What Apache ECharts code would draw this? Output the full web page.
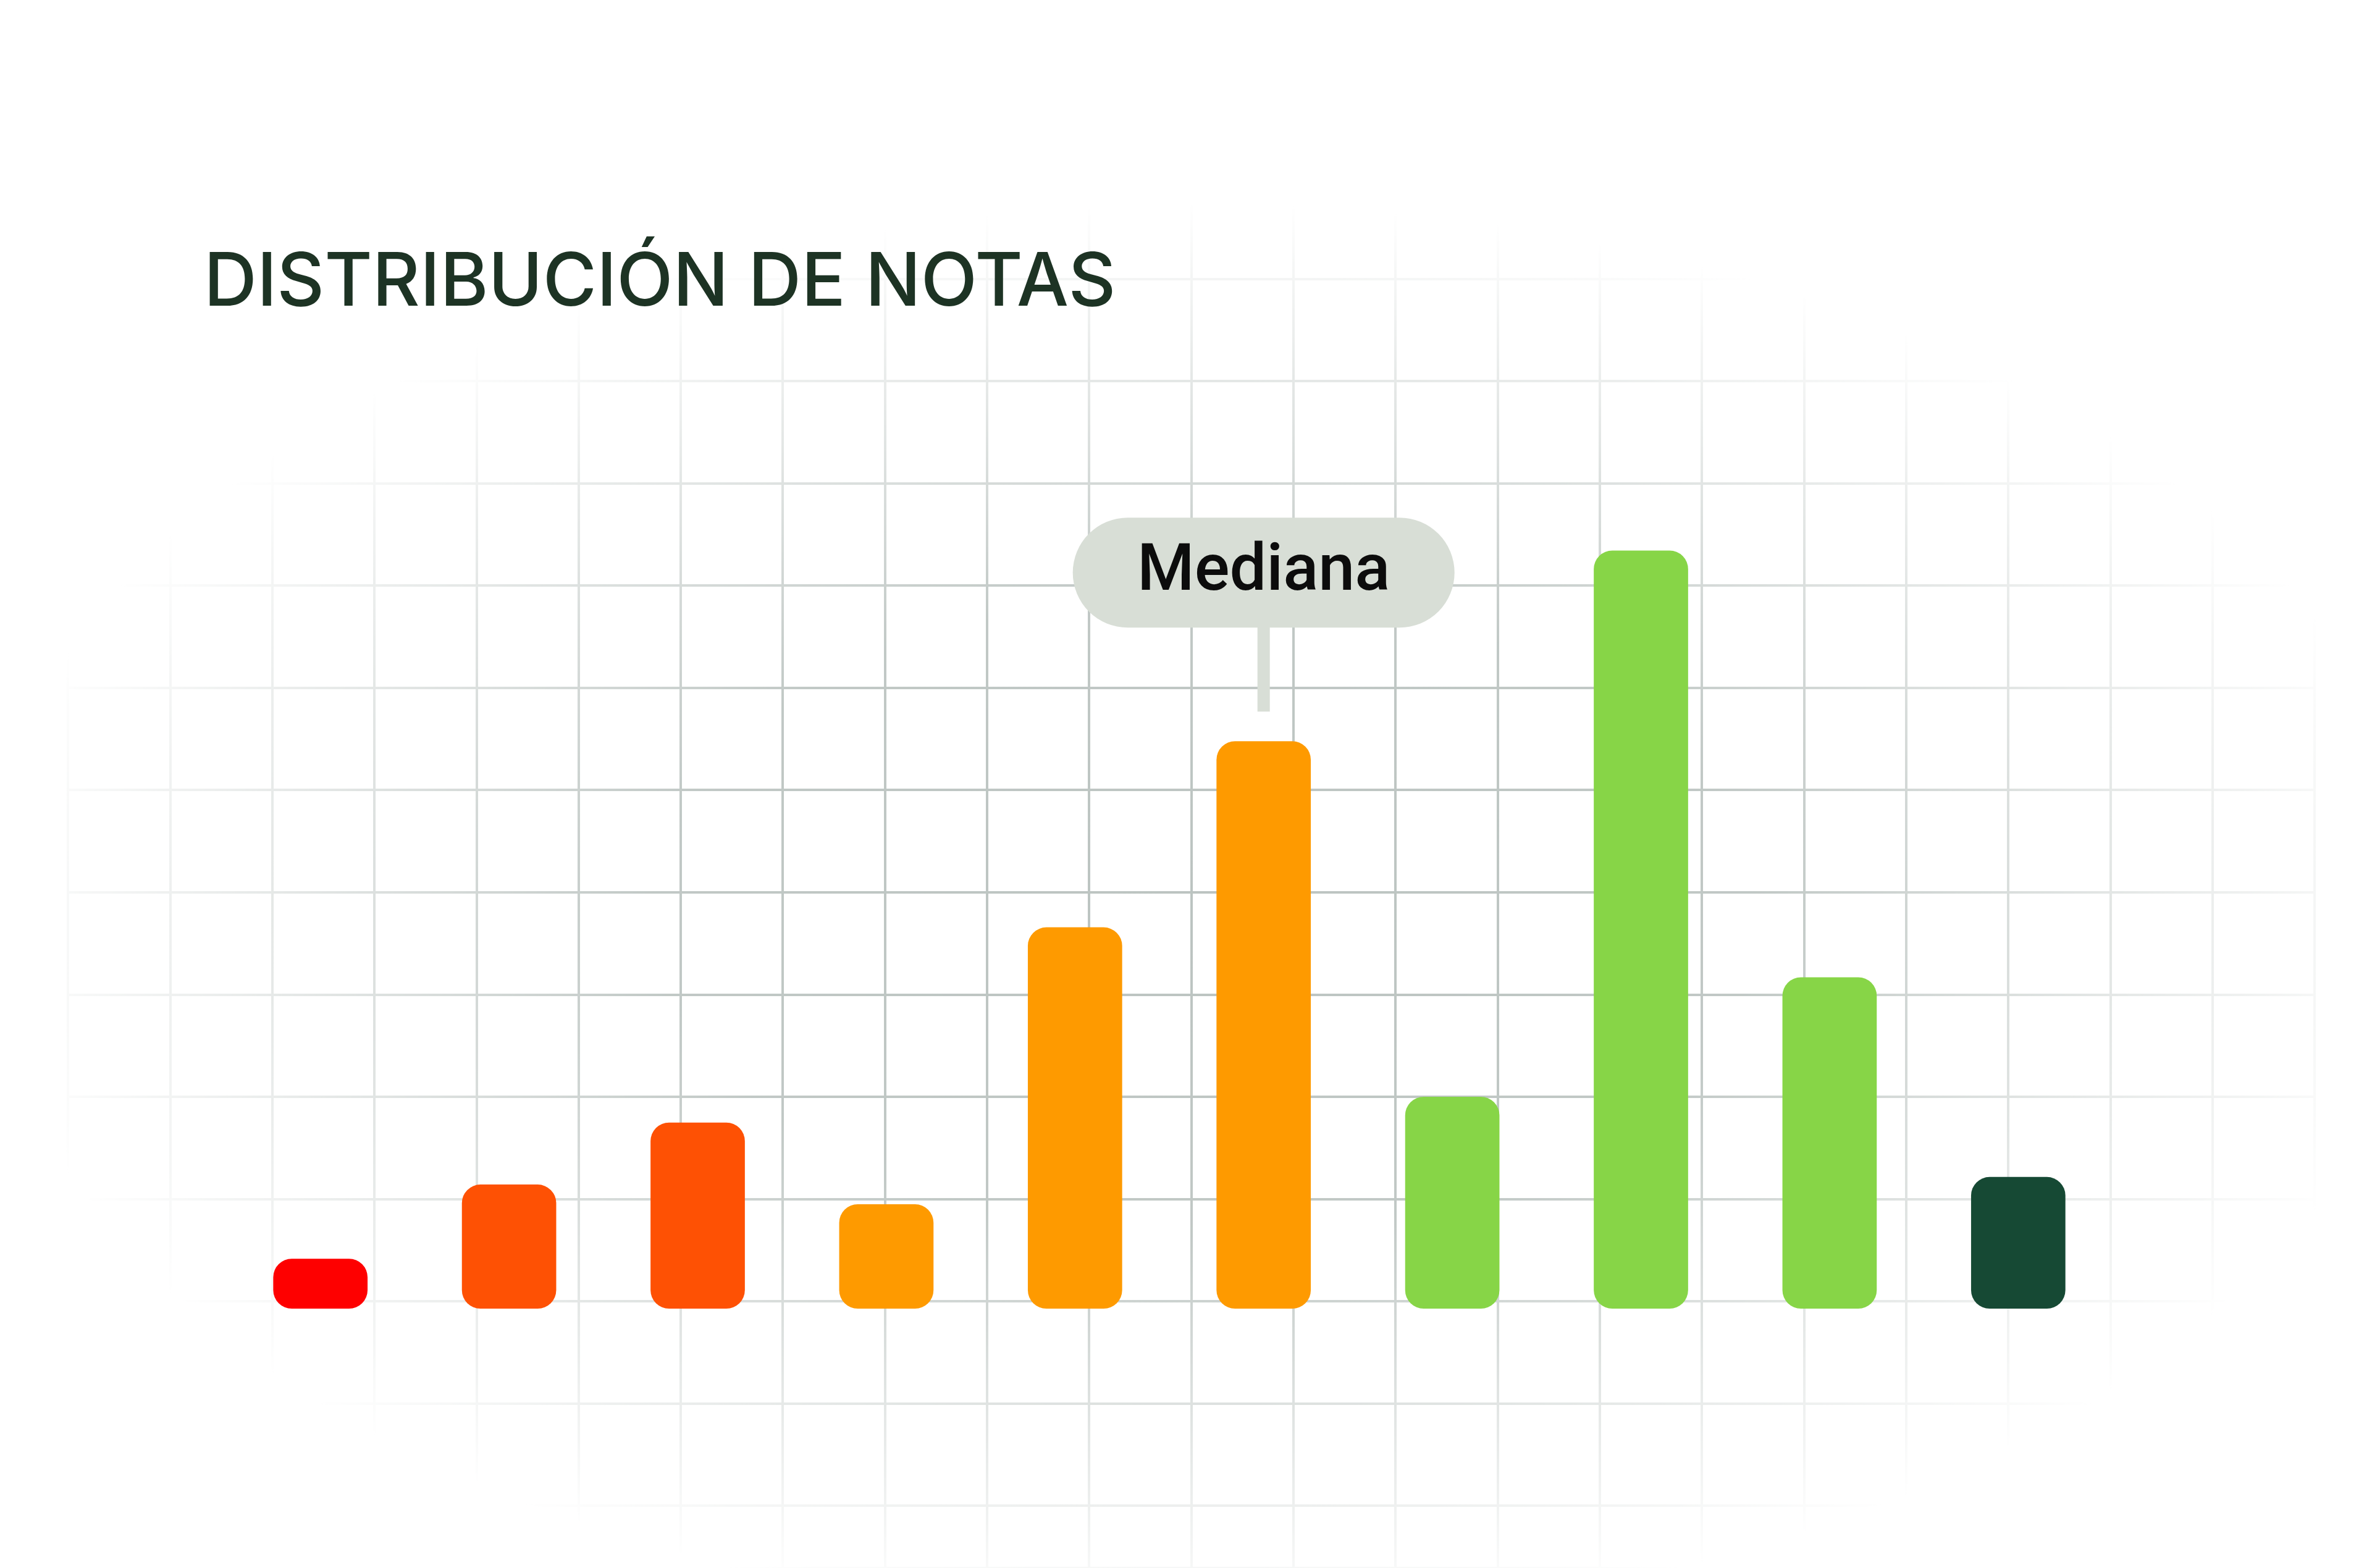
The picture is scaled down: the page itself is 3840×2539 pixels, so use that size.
<!DOCTYPE html>
<html>
<head>
<meta charset="utf-8">
<script src="https://cdn.jsdelivr.net/npm/echarts@6/dist/echarts.min.js"></script>
<style>
  html, body { margin: 0; padding: 0; background: #ffffff; }
  #chart { width: 3840px; height: 2539px; }
</style>
</head>
<body>
<div id="chart"></div>
<script>
// ---- data ----
const titleText = 'DISTRIBUCIÓN DE NOTAS';
const categories = ['1', '2', '3', '4', '5', '6', '7', '8', '9', '10'];
const counts = [3.3, 8.2, 12.3, 6.9, 25.2, 37.5, 14.0, 50.1, 21.9, 8.7];
const medianIndex = 5;
const medianLabel = 'Mediana';

// ---- styles ----
const barColors = ['#fe0000', '#fe5104', '#fe5104', '#fe9a00', '#fe9a00', '#fe9a00',
                   '#87d547', '#87d547', '#87d547', '#164934'];
const pillColor = '#d8ded6';

const chart = echarts.init(document.getElementById('chart'), null, { renderer: 'canvas' });

const option = {
  backgroundColor: '#ffffff',
  animation: false,
  title: {
    text: titleText,
    left: 325,
    top: 395,
    z: 10,
    textStyle: {
      fontFamily: 'Inter',
      fontWeight: 500,
      fontSize: 119,
      color: '#1d3324'
    }
  },
  grid: [
    { left: 366, right: 420, top: 649, bottom: 420 },
    { left: 110, right: 93, top: 286, bottom: 0 }
  ],
  xAxis: [
    {
      type: 'category', gridIndex: 0, data: categories,
      axisLine: { show: false }, axisTick: { show: false }, axisLabel: { show: false },
      splitLine: { show: false }
    },
    {
      type: 'value', gridIndex: 1, min: 0, max: 22, interval: 1,
      axisLine: { show: false }, axisTick: { show: false }, axisLabel: { show: false },
      splitLine: { show: true, lineStyle: { color: '#bcc4c1', width: 4 } }
    }
  ],
  yAxis: [
    {
      type: 'value', gridIndex: 0, min: 0, max: 60,
      axisLine: { show: false }, axisTick: { show: false }, axisLabel: { show: false },
      splitLine: { show: false }
    },
    {
      type: 'value', gridIndex: 1, inverse: true, min: 0, max: 13.61, interval: 1,
      axisLine: { show: false }, axisTick: { show: false }, axisLabel: { show: false },
      splitLine: { show: true, lineStyle: { color: '#bcc4c1', width: 4 } }
    }
  ],
  graphic: [
    {
      type: 'rect',
      z: 1,
      silent: true,
      x: 1950, y: 1480,
      scaleX: 1980, scaleY: 1150,
      shape: { x: -3, y: -3, width: 6, height: 6 },
      style: {
        fill: new echarts.graphic.RadialGradient(0.5, 0.5, 1 / 6, [
          { offset: 0, color: 'rgba(255,255,255,0)' },
          { offset: 0.45, color: 'rgba(255,255,255,0.08)' },
          { offset: 0.75, color: 'rgba(255,255,255,0.6)' },
          { offset: 1, color: 'rgba(255,255,255,1)' }
        ])
      }
    }
  ],
  series: [
    {
      type: 'bar',
      xAxisIndex: 0, yAxisIndex: 0,
      z: 3,
      barWidth: '50%',
      data: counts.map((v, i) => ({
        value: v,
        itemStyle: { color: barColors[i], borderRadius: 30 }
      }))
    },
    {
      type: 'custom',
      xAxisIndex: 0, yAxisIndex: 0,
      z: 4,
      silent: true,
      data: [[medianIndex, counts[medianIndex]]],
      renderItem: function (params, api) {
        const pt = api.coord([api.value(0), api.value(1)]);
        const x = pt[0], top = pt[1];
        return {
          type: 'group',
          children: [
            { type: 'rect', shape: { x: x - 10, y: top - 186, width: 20, height: 138 },
              style: { fill: pillColor } },
            { type: 'rect', shape: { x: x - 309, y: top - 362, width: 618, height: 178, r: 89 },
              style: { fill: pillColor } },
            { type: 'text', x: x, y: top - 272,
              style: { text: medianLabel, align: 'center', verticalAlign: 'middle',
                       fontFamily: 'Roboto', fontWeight: 500, fontSize: 106, fill: '#0c0c0c' } }
          ]
        };
      }
    }
  ]
};

chart.setOption(option);
</script>
</body>
</html>
